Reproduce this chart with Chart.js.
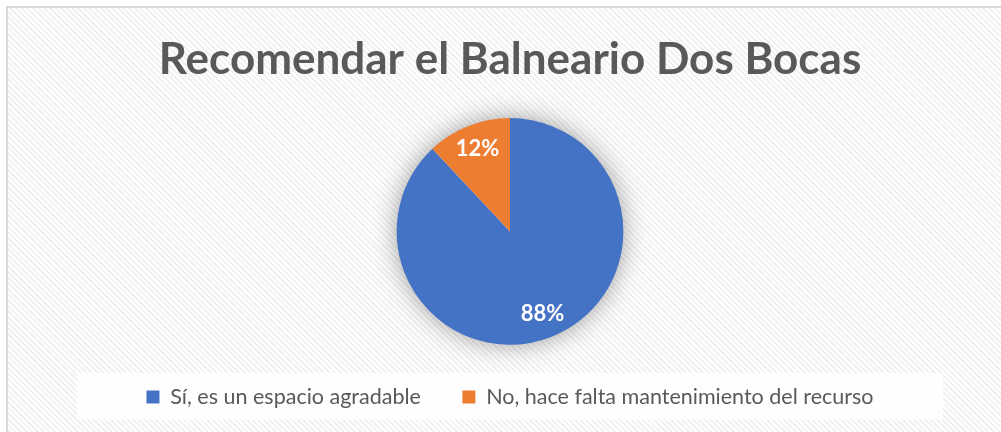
<!DOCTYPE html>
<html>
<head>
<meta charset="utf-8">
<script src="https://cdn.jsdelivr.net/npm/chart.js@4"></script>
<style>
  html, body { margin: 0; padding: 0; overflow: hidden; background: #fff; }
  #frame {
    position: absolute; left: 6px; top: 6px;
    width: 1004px; height: 432px;
    border: 2px solid #d9d9d9;
    background: repeating-linear-gradient(45deg, #ffffff 0px, #ffffff 2px, #f1f1f1 2px, #f1f1f1 4px);
  }
  canvas { display: block; }
</style>
</head>
<body>
<div id="frame"><canvas id="chart" width="1004" height="432"></canvas></div>
<script>
const titleText = 'Recomendar el Balneario Dos Bocas'
const categories = ['Sí, es un espacio agradable', 'No, hace falta mantenimiento del recurso']
const values = [88, 12]
const colors = ['#4472C4', '#ED7D31']

// soft shadow behind the pie
const pieShadow = {
    id: 'pieShadow',
    beforeDatasetsDraw(chart) {
        const arc = chart.getDatasetMeta(0).data[0]
        if (!arc) return
        const ctx = chart.ctx
        ctx.save()
        ctx.shadowColor = 'rgba(0,0,0,0.4)'
        ctx.shadowBlur = 26
        ctx.fillStyle = '#ffffff'
        ctx.beginPath()
        ctx.arc(arc.x, arc.y, arc.outerRadius - 1, 0, Math.PI * 2)
        ctx.fill()
        ctx.restore()
    }
}

// white box under the legend
const legendBox = {
    id: 'legendBox',
    beforeDraw(chart) {
        const lg = chart.legend
        const ctx = chart.ctx
        ctx.save()
        ctx.fillStyle = 'rgba(255,255,255,0.85)'
        ctx.fillRect(69, lg.top + 28, 866, 47)
        ctx.restore()
    }
}

// percentage labels inside the slices
const sliceLabels = {
    id: 'sliceLabels',
    afterDatasetsDraw(chart) {
        const meta = chart.getDatasetMeta(0)
        const data = chart.data.datasets[0].data
        const total = data.reduce((a, b) => a + b, 0)
        const ctx = chart.ctx
        ctx.save()
        ctx.fillStyle = '#ffffff'
        ctx.font = 'bold 22px Lato'
        ctx.textAlign = 'center'
        ctx.textBaseline = 'middle'
        meta.data.forEach((arc, i) => {
            const mid = (arc.startAngle + arc.endAngle) / 2
            const r = arc.outerRadius * 0.78
            ctx.fillText(Math.round(data[i] / total * 100) + '%', arc.x + Math.cos(mid) * r, arc.y + Math.sin(mid) * r)
        })
        ctx.restore()
    }
}

new Chart(document.getElementById('chart'), {
    type: 'pie',
    data: {
        labels: categories,
        datasets: [{
            data: values,
            backgroundColor: colors,
            borderWidth: 0
        }]
    },
    options: {
        responsive: false,
        animation: false,
        layout: { padding: { top: 0, bottom: 22.25, left: 0, right: 0 } },
        plugins: {
            title: {
                display: true,
                text: titleText,
                color: '#595959',
                font: { family: 'Lato', size: 44, weight: 'bold', lineHeight: 1.2 },
                padding: { top: 25.5, bottom: 31.7 }
            },
            legend: {
                position: 'bottom',
                labels: {
                    color: '#595959',
                    font: { family: 'Lato', size: 21.5 },
                    boxWidth: 13,
                    boxHeight: 13,
                    padding: 41.5
                }
            },
            tooltip: { enabled: false }
        }
    },
    plugins: [legendBox, pieShadow, sliceLabels]
})
</script>
</body>
</html>
